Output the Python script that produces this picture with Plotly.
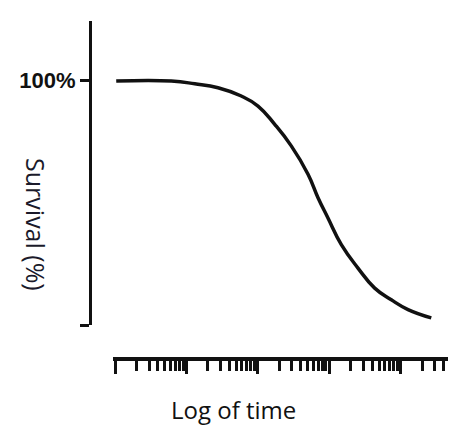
import plotly.graph_objects as go

# Data
time_values = [1.04, 6.15, 13.1, 27.7, 58.7, 100.7, 172.6, 294, 505, 697, 961,
               1479, 2529, 4335, 7413, 12700, 26900]
survival_pct = [99.8, 99.8, 98.7, 97.1, 93.7, 89.6, 82.1, 73.3, 61.7, 52.1, 43.8,
                32.9, 23.3, 15.1, 10.3, 6.3, 2.9]
y_tick_vals = [0, 100]
y_tick_text = ["", "<b>100%</b>"]
x_title = "Log of time"
y_title = "Survival (%)"

ink = "#111111"

fig = go.Figure()
fig.add_trace(go.Scatter(
    x=time_values, y=survival_pct, mode="lines",
    line=dict(color=ink, width=3.5, shape="spline", smoothing=1.3),
    showlegend=False, hoverinfo="skip",
))

fig.update_layout(
    width=456, height=425,
    margin=dict(l=82, r=0, t=13, b=74),
    paper_bgcolor="white", plot_bgcolor="white",
    xaxis=dict(
        type="log", range=[-0.028, 4.888], domain=[0.0615, 1],
        showgrid=False, zeroline=False,
        showline=True, linecolor=ink, linewidth=4,
        ticks="outside", ticklen=13, tickwidth=3, tickcolor=ink,
        dtick=1, showticklabels=False,
        minor=dict(dtick="D1", ticks="outside", ticklen=10, tickwidth=3,
                   tickcolor=ink, showgrid=False),
        anchor="free", position=0,
    ),
    yaxis=dict(
        range=[0, 124.4], domain=[0.1006, 1],
        showgrid=False, zeroline=False,
        showline=True, linecolor=ink, linewidth=3,
        ticks="outside", ticklen=9, tickwidth=3, tickcolor=ink,
        tickvals=y_tick_vals, ticktext=y_tick_text,
        tickfont=dict(family="Liberation Sans, Arial", size=22, color=ink),
        anchor="free", position=0,
    ),
    annotations=[
        dict(text=x_title, xref="paper", yref="paper", x=0.385, y=-0.148,
             xanchor="center", yanchor="middle", showarrow=False,
             font=dict(family="Open Sans", size=24, color=ink)),
        dict(text=y_title, xref="paper", yref="paper", x=-0.146, y=0.398,
             xanchor="center", yanchor="middle", showarrow=False, textangle=90,
             font=dict(family="Open Sans", size=25, color="#1a1a2a")),
    ],
)

fig.write_html("out.html")
